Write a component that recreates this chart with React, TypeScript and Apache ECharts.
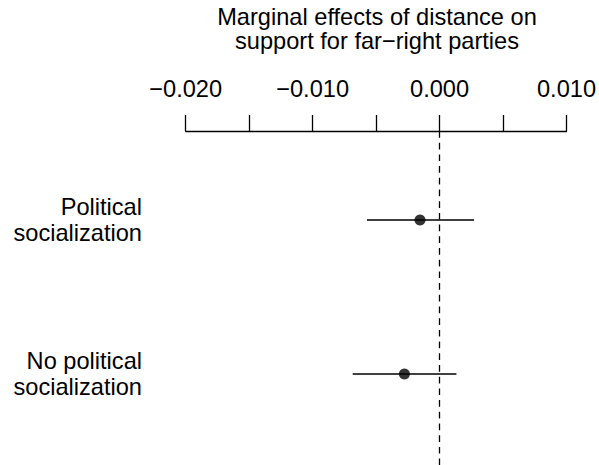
import React, { useEffect, useRef } from "react";
import * as echarts from "echarts";

const categories = ["Political\nsocialization", "No political\nsocialization"];
const estimates = [-0.00154, -0.00277];
const lowerBounds = [-0.00572, -0.00684];
const upperBounds = [0.00272, 0.00133];
const titleText = "Marginal effects of distance on\nsupport for far\u2212right parties";

const FONT = "Liberation Sans, Arial, Helvetica, sans-serif";
const FS = 23.6;

export default function App() {
  const ref = useRef<HTMLDivElement>(null);
  useEffect(() => {
    if (!ref.current) return;
    const chart = echarts.init(ref.current, null, { renderer: "svg" });
    const rows = categories.map((_, i) => i + 1);
    const fmt = (v: number) => {
      const r = Math.round(v * 1000);
      if (r % 10 !== 0) return "";
      return (r < 0 ? "\u2212" : "") + Math.abs(r / 1000).toFixed(3);
    };
    chart.setOption({
      animation: false,
      backgroundColor: "#fff",
      title: {
        text: titleText,
        left: 377,
        top: 4.5,
        padding: 0,
        textAlign: "center",
        textStyle: {
          fontFamily: FONT,
          fontSize: FS,
          fontWeight: "normal",
          color: "#000",
          lineHeight: 24.5,
        },
      },
      grid: { left: 185.7, right: 30.3, top: 131, bottom: 0 },
      xAxis: {
        type: "value",
        position: "top",
        min: -0.02,
        max: 0.01,
        interval: 0.005,
        axisLine: { show: true, lineStyle: { color: "#000", width: 1.3 } },
        axisTick: { show: true, length: 16, lineStyle: { color: "#000", width: 1.3 } },
        splitLine: { show: false },
        axisLabel: {
          formatter: fmt,
          margin: 30.5,
          color: "#000",
          fontFamily: FONT,
          fontSize: FS,
          showMinLabel: true,
          showMaxLabel: true,
        },
      },
      yAxis: {
        type: "value",
        inverse: true,
        min: 0.422,
        max: 2.591,
        axisLine: { show: false },
        axisTick: { show: false },
        splitLine: { show: false },
        axisLabel: {
          customValues: rows,
          formatter: (v: number) => categories[Math.round(v) - 1] ?? "",
          margin: 43.7,
          color: "#000",
          fontFamily: FONT,
          fontSize: FS,
          lineHeight: 26,
          align: "right",
          padding: [0, 0, 6, 0],
        },
      },
      series: [
        {
          type: "custom",
          data: rows.map((r, i) => [r, lowerBounds[i], upperBounds[i]]),
          encode: { x: [1, 2], y: 0 },
          renderItem: (params: any, api: any) => {
            const y = api.value(0);
            const p1 = api.coord([api.value(1), y]);
            const p2 = api.coord([api.value(2), y]);
            return {
              type: "line",
              shape: { x1: p1[0], y1: p1[1], x2: p2[0], y2: p2[1] },
              style: { stroke: "#000", lineWidth: 1.3 },
            };
          },
          silent: true,
        },
        {
          type: "scatter",
          data: rows.map((r, i) => [estimates[i], r]),
          symbol: "circle",
          symbolSize: 11,
          itemStyle: { color: "#000" },
          silent: true,
          markLine: {
            silent: true,
            symbol: "none",
            label: { show: false },
            lineStyle: { color: "#000", type: [6.7, 5], width: 1.3 },
            data: [{ xAxis: 0 }],
          },
        },
      ],
    });
    return () => chart.dispose();
  }, []);
  return <div ref={ref} style={{ width: 599, height: 465, position: "absolute", left: 0, top: 0 }} />;
}
